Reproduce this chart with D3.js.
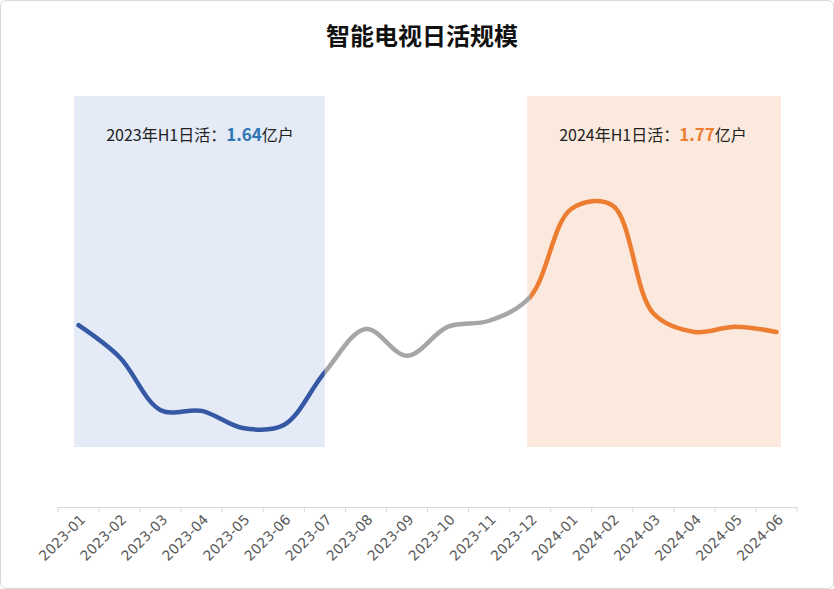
<!DOCTYPE html>
<html><head><meta charset="utf-8">
<script src="https://cdn.jsdelivr.net/npm/d3@7"></script>
<style>body{margin:0;background:#fff;font-family:"Noto Sans CJK SC","Noto Sans",sans-serif;}</style>
</head><body><svg id="c" width="834" height="589"></svg>
<script>
const months = ["2023-01","2023-02","2023-03","2023-04","2023-05","2023-06","2023-07","2023-08","2023-09","2023-10","2023-11","2023-12","2024-01","2024-02","2024-03","2024-04","2024-05","2024-06"];
const dau = [1.644,1.601,1.530,1.529,1.506,1.510,1.581,1.639,1.603,1.642,1.650,1.682,1.800,1.805,1.660,1.635,1.642,1.635];
const title = "智能电视日活规模";
const notes = [{label:"2023年H1日活：", value:"1.64", unit:"亿户", color:"#2E75B6"},{label:"2024年H1日活：", value:"1.77", unit:"亿户", color:"#ED7D31"}];

const svg = d3.select("#c");
svg.append("rect").attr("x",0.5).attr("y",0.5).attr("width",833).attr("height",588).attr("rx",6).attr("fill","#fff").attr("stroke","#D9D9D9");
const x = d3.scaleBand().domain(months).range([58,797]);
const cx = m => x(m)+x.bandwidth()/2;
const y = d3.scaleLinear().domain([1.4,2.0]).range([507,60]);

svg.append("rect").attr("x",74).attr("y",96).attr("width",cx(months[6])-74).attr("height",351).attr("fill","#E4EAF6");
svg.append("rect").attr("x",cx(months[11])-3).attr("y",96).attr("width",781-cx(months[11])+3).attr("height",351).attr("fill","#FCE9DD");

svg.append("text").attr("x",422).attr("y",45).attr("text-anchor","middle").attr("font-size",24).attr("font-weight","bold").attr("fill","#111").text(title);

[[200,notes[0]],[653,notes[1]]].forEach(([px,n])=>{
  const t = svg.append("text").attr("x",px).attr("y",141).attr("text-anchor","middle").attr("font-size",16).attr("fill","#222");
  t.append("tspan").text(n.label);
  t.append("tspan").attr("font-weight","bold").attr("font-size",17).attr("fill",n.color).text(n.value);
  t.append("tspan").text(n.unit);
});

const line = d3.line().x((d,i)=>cx(months[i])).y(d=>y(d)).curve(d3.curveCatmullRom.alpha(0.5));
const defs = svg.append("defs");
const segs = [[0,cx(months[6]),"#3558A5"],[cx(months[6]),cx(months[11]),"#A6A6A6"],[cx(months[11]),834,"#ED7D31"]];
segs.forEach((s,i)=>{
  defs.append("clipPath").attr("id","cl"+i).append("rect").attr("x",s[0]).attr("y",0).attr("width",s[1]-s[0]).attr("height",589);
  svg.append("path").attr("d",line(dau)).attr("fill","none").attr("stroke",s[2]).attr("stroke-width",4.5).attr("stroke-linecap","round").attr("clip-path",`url(#cl${i})`);
});

const ax = svg.append("g").attr("transform","translate(0,507)").call(d3.axisBottom(x).tickSize(0).tickPadding(6));
ax.select(".domain").attr("stroke","#D9D9D9");
ax.selectAll(".tick text").attr("font-size",14).attr("fill","#595959").attr("font-family","DejaVu Sans, sans-serif")
  .attr("text-anchor","end").attr("transform","rotate(-45)").attr("dx","0em").attr("dy","0.35em").attr("x",-4).attr("y",10);
const bounds = x.domain().map(m=>x(m)).concat([797]);
svg.selectAll(".tk").data(bounds).join("line").attr("x1",d=>d).attr("x2",d=>d).attr("y1",507).attr("y2",512).attr("stroke","#D9D9D9");
</script></body></html>
